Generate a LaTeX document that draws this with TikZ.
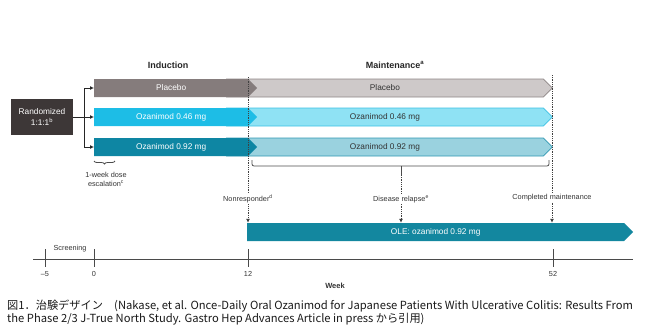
\documentclass[tikz,border=0pt]{standalone}
\usepackage{fontspec}
\setmainfont{Liberation Sans}
\newfontfamily\cjk{Noto Sans CJK JP}
\usetikzlibrary{arrows.meta,positioning,calc,shapes.symbols,decorations.pathreplacing}
\definecolor{charcoal}{HTML}{3D3737}
\definecolor{plcdark}{HTML}{857C7C}
\definecolor{plclight}{HTML}{CEC9C9}
\definecolor{plcline}{HTML}{8E8686}
\definecolor{cyandark}{HTML}{1DBDE6}
\definecolor{cyanlight}{HTML}{8FE2F4}
\definecolor{cyanline}{HTML}{3CC2E4}
\definecolor{tealdark}{HTML}{0E86A3}
\definecolor{teallight}{HTML}{9AD2DF}
\definecolor{tealline}{HTML}{3098B2}
\definecolor{olecol}{HTML}{13879F}
\definecolor{axisgray}{HTML}{4A4A4A}
\tikzset{bar/.style={signal,signal to=east,signal pointer angle=90,minimum height=18pt,inner sep=0pt,font=\fontsize{8.3}{10}\selectfont,anchor=west}, indbar/.style={bar,text=white}, mntbar/.style={bar,text=black!80,line width=0.8pt}, lbl/.style={font=\fontsize{7.3}{9}\selectfont,text=black!80,inner sep=1pt}, head/.style={font=\bfseries\fontsize{9}{11}\selectfont,text=black!85}, flow/.style={-{Latex[length=4pt,width=4pt]},draw=black!85,line width=0.8pt}, dots/.style={densely dotted,draw=black!75,line width=0.8pt}, drop/.style={dots,-{Latex[length=4pt,width=4pt]}}, tickline/.style={draw=axisgray,line width=0.8pt}, bracket/.style={draw=black!70,line width=0.8pt,rounded corners=2pt}}
\begin{document}
\begin{tikzpicture}[x=1pt,y=-1pt]
\useasboundingbox (0,0) rectangle (649,333);
\node[head] (ind) at (168,65) {Induction};
\node[head] (mnt) at (395,65) {Maintenance\textsuperscript{a}};
\node[mntbar,fill=plclight,draw=plcline,minimum width=326pt] (m1) at (226,88) {Placebo};
\node[mntbar,fill=cyanlight,draw=cyanline,minimum width=326pt] (m2) at (226,117) {Ozanimod 0.46 mg};
\node[mntbar,fill=teallight,draw=tealline,minimum width=326pt] (m3) at (226,147) {Ozanimod 0.92 mg};
\node[indbar,fill=plcdark,minimum width=163pt] (i1) at (94,88) {Placebo};
\node[indbar,fill=cyandark,minimum width=163pt] (i2) at (94,117) {Ozanimod 0.46 mg};
\node[indbar,fill=tealdark,minimum width=163pt] (i3) at (94,147) {Ozanimod 0.92 mg};
\node[fill=charcoal,text=white,minimum width=62pt,minimum height=36pt,align=center,inner sep=0pt,font=\fontsize{8.3}{10.5}\selectfont] (rand) at (42,117) {Randomized\\1:1:1\textsuperscript{b}};
\coordinate (split) at (84,117);
\draw[flow] (rand.east) -- (i2.west);
\draw[flow] (split) |- (i1.west);
\draw[flow] (split) |- (i3.west);
\node[bar,fill=olecol,text=white,minimum width=386pt] (ole) at (247,232) {OLE: ozanimod 0.92 mg};
\node[lbl] (nonr) at (248,199) {Nonresponder\textsuperscript{d}};
\node[lbl] (relapse) at (401,199) {Disease relapse\textsuperscript{e}};
\node[lbl] (done) at (552,198) {Completed maintenance};
\coordinate (wk12top) at (248,77);
\coordinate (wk52top) at (552,75);
\draw[dots] (wk12top) -- (nonr.north);
\draw[drop] (nonr.south) -- (nonr.south |- ole.north);
\draw[dots] (wk52top) -- (done.north);
\draw[drop] (done.south) -- (done.south |- ole.north);
\draw[bracket] (252,160) -- (252,166) -- (549,166) -- (549,160);
\coordinate (stem) at (401,175);
\draw[bracket] (401,166) -- (stem);
\draw[dots] (stem) -- (relapse.north);
\draw[drop] (relapse.south) -- (relapse.south |- ole.north);
\draw[decorate,decoration={brace,mirror,amplitude=3pt},draw=black!70,line width=0.8pt] (94,161) -- (115,161);
\node[lbl,align=center] (esc) at (106,179) {1-week dose\\escalation\textsuperscript{c}};
\draw[tickline] (33,259) -- (633,259);
\foreach \x/\t [count=\i] in {45/{\textendash5},94/0,248/12,553/52}{
  \draw[tickline] (\x,249) -- (\x,267);
  \node[lbl] (wk\i) at (\x,274) {\t};
}
\node[lbl] (scr) at (70,249) {Screening};
\node[lbl,font=\bfseries\fontsize{7.5}{9}\selectfont] (week) at (335,286) {Week};
\node[anchor=north west,align=left,inner sep=0pt,text=black!90,font=\cjk\fontsize{11.2}{13}\selectfont] (cap) at (7,300) {図1．治験デザイン　(Nakase, et al. Once-Daily Oral Ozanimod for Japanese Patients With Ulcerative Colitis: Results From\\the Phase 2/3 J-True North Study. Gastro Hep Advances Article in press から引用)};
\end{tikzpicture}
\end{document}
